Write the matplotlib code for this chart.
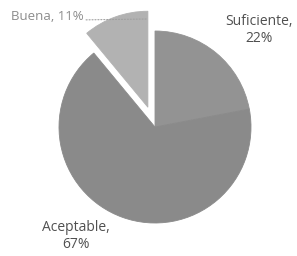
import matplotlib
matplotlib.use("Agg")
import matplotlib.pyplot as plt

categories = ["Suficiente", "Aceptable", "Buena"]
values = [22, 67, 11]
colors = ["#939393", "#8a8a8a", "#b2b2b2"]

W, H = 297, 256
fig = plt.figure(figsize=(W / 100, H / 100), dpi=100)
ax = fig.add_axes([0, 0, 1, 1])

cx, cy, r = 155, H - 127, 96
explode = [0, 0, 21]  # absolute offset in data units
wedges, _ = ax.pie(values, colors=colors, explode=explode, startangle=90,
                   counterclock=False, center=(cx, cy), radius=r, frame=True,
                   wedgeprops=dict(linewidth=0.6))
for w in wedges:
    w.set_edgecolor(w.get_facecolor())
ax.set_xlim(0, W)
ax.set_ylim(0, H)
ax.set_aspect("equal")
ax.axis("off")

fam = ["Open Sans", "DejaVu Sans"]
ax.text(259, H - 30, f"{categories[0]},\n{values[0]}%", ha="center", va="center",
        linespacing=1.2, fontfamily=fam, fontsize=10, color="#505050")
ax.text(76, H - 236, f"{categories[1]},\n{values[1]}%", ha="center", va="center",
        linespacing=1.2, fontfamily=fam, fontsize=10, color="#505050")
ax.annotate(f"{categories[2]}, {values[2]}%", xy=(147, H - 19), xytext=(47, H - 16),
            ha="center", va="center", fontfamily=fam,
            fontsize=9.5, color="#8c8c8c",
            arrowprops=dict(arrowstyle="-", linestyle=":", color="#a0a0a0", lw=0.8,
                            shrinkA=0, shrinkB=0, relpos=(1.0, 0.2)))

fig.savefig("out.png", dpi=100)
